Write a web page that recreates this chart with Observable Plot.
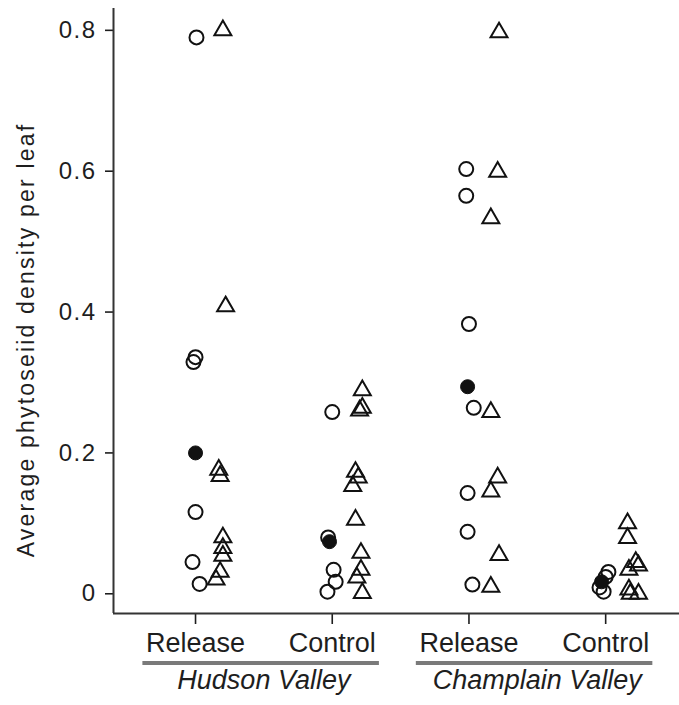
<!DOCTYPE html>
<html>
<head>
<meta charset="utf-8">
<script src="https://cdn.jsdelivr.net/npm/d3@7"></script>
<script src="https://cdn.jsdelivr.net/npm/@observablehq/plot@0.6"></script>
<style>
  html, body { margin: 0; padding: 0; background: #fff; }
  #chart svg [aria-label="y-axis tick label"] text { letter-spacing: 1.5px; }
  #chart svg .ytitle text { letter-spacing: 2.2px; }
</style>
</head>
<body>
<div id="chart"></div>
<script>
// ---- Data ----
const categories = ["Release", "Control", "Release", "Control"];
const valleys = ["Hudson Valley", "Champlain Valley"];
const valleyStart = [0, 2];   // first category index of each valley
const valleyEnd = [1, 3];     // last category index of each valley
const yTicks = [0, 0.2, 0.4, 0.6, 0.8];
const yLabel = "Average phytoseiid density per leaf";

// Open circles (one array per category)
const circleValues = [
  [0.79, 0.336, 0.329, 0.116, 0.045, 0.014],
  [0.258, 0.08, 0.034, 0.017, 0.003],
  [0.603, 0.565, 0.383, 0.264, 0.143, 0.088, 0.013],
  [0.031, 0.024, 0.009, 0.003]
];
// horizontal jitter of each circle (fraction of category spacing)
const circleJitter = [
  [0.007, 0, -0.015, 0, -0.022, 0.03],
  [0, -0.03, 0.01, 0.025, -0.035],
  [-0.02, -0.02, 0, 0.035, -0.01, -0.01, 0.025],
  [0.02, 0, -0.045, -0.015]
];

// Open triangles
const triangleValues = [
  [0.80, 0.408, 0.176, 0.167, 0.08, 0.065, 0.054, 0.031, 0.02],
  [0.289, 0.264, 0.26, 0.173, 0.165, 0.153, 0.105, 0.058, 0.034, 0.023, 0.001],
  [0.797, 0.599, 0.533, 0.258, 0.165, 0.145, 0.055, 0.01],
  [0.10, 0.079, 0.045, 0.04, 0.034, 0.006, 0.0, 0.0]
];
const triangleJitter = [
  [0.2, 0.22, 0.17, 0.18, 0.2, 0.2, 0.2, 0.18, 0.15],
  [0.22, 0.22, 0.2, 0.17, 0.19, 0.15, 0.17, 0.21, 0.21, 0.18, 0.22],
  [0.22, 0.21, 0.16, 0.16, 0.21, 0.16, 0.22, 0.16],
  [0.16, 0.16, 0.22, 0.24, 0.17, 0.17, 0.18, 0.24]
];

// Filled circles
const filledValues = [0.2, 0.074, 0.294, 0.017];
const filledJitter = [0, -0.02, -0.01, -0.03];

// ---- Build tables ----
const circles = circleValues.flatMap((vals, g) => vals.map((v, i) => ({x: g + circleJitter[g][i], y: v})));
const triangles = triangleValues.flatMap((vals, g) => vals.map((v, i) => ({x: g + triangleJitter[g][i], y: v})));
const filled = filledValues.map((v, g) => ({x: g + filledJitter[g], y: v}));
const valleyRows = valleys.map((name, i) => ({name, start: valleyStart[i], end: valleyEnd[i]}));

const xDomain = [-0.6, 3.54];
const yDomain = [-0.028, 0.831];
const ink = "#1e1e1e";

const chart = Plot.plot({
  width: 679,
  height: 705,
  marginLeft: 113,
  marginRight: 0,
  marginTop: 8,
  marginBottom: 92,
  x: {domain: xDomain},
  y: {domain: yDomain},
  style: {fontFamily: "'Liberation Sans', Arial, Helvetica, sans-serif", background: "#fff", color: ink},
  marks: [
    Plot.axisY({ticks: yTicks, tickFormat: d => d === 0 ? "0" : d.toFixed(1), tickSize: 8, tickPadding: 9, fontSize: 24, label: null, strokeWidth: 1.6}),
    Plot.axisX({ticks: d3.range(categories.length), tickFormat: i => categories[i], tickSize: 11, tickPadding: 8, fontSize: 27, label: null, strokeWidth: 1.6}),
    Plot.ruleX([xDomain[0]], {stroke: "#333", strokeWidth: 2}),
    Plot.ruleY([yDomain[0]], {stroke: "#333", strokeWidth: 2}),
    Plot.text([yLabel], {frameAnchor: "left", textAnchor: "middle", rotate: -90, dx: -87, dy: 29, fontSize: 23, fill: ink, className: "ytitle"}),
    Plot.ruleY(valleyRows, {y: () => yDomain[0], x1: d => d.start - 0.385, x2: d => d.end + 0.345, dy: 49.5, stroke: "#7a7a7a", strokeWidth: 4}),
    Plot.text(valleyRows, {x: d => (d.start + d.end) / 2, frameAnchor: "bottom", text: "name", dy: 75, fontSize: 27, fontStyle: "italic", fill: ink}),
    Plot.dot(circles, {x: "x", y: "y", r: 7, stroke: "#111", strokeWidth: 2, fill: "none"}),
    Plot.dot(triangles, {x: "x", y: "y", symbol: "triangle", r: 6.3, stroke: "#111", strokeWidth: 2, fill: "none"}),
    Plot.dot(filled, {x: "x", y: "y", r: 7, fill: "#111", stroke: "#111", strokeWidth: 1})
  ]
});
document.getElementById("chart").appendChild(chart);
</script>
</body>
</html>
